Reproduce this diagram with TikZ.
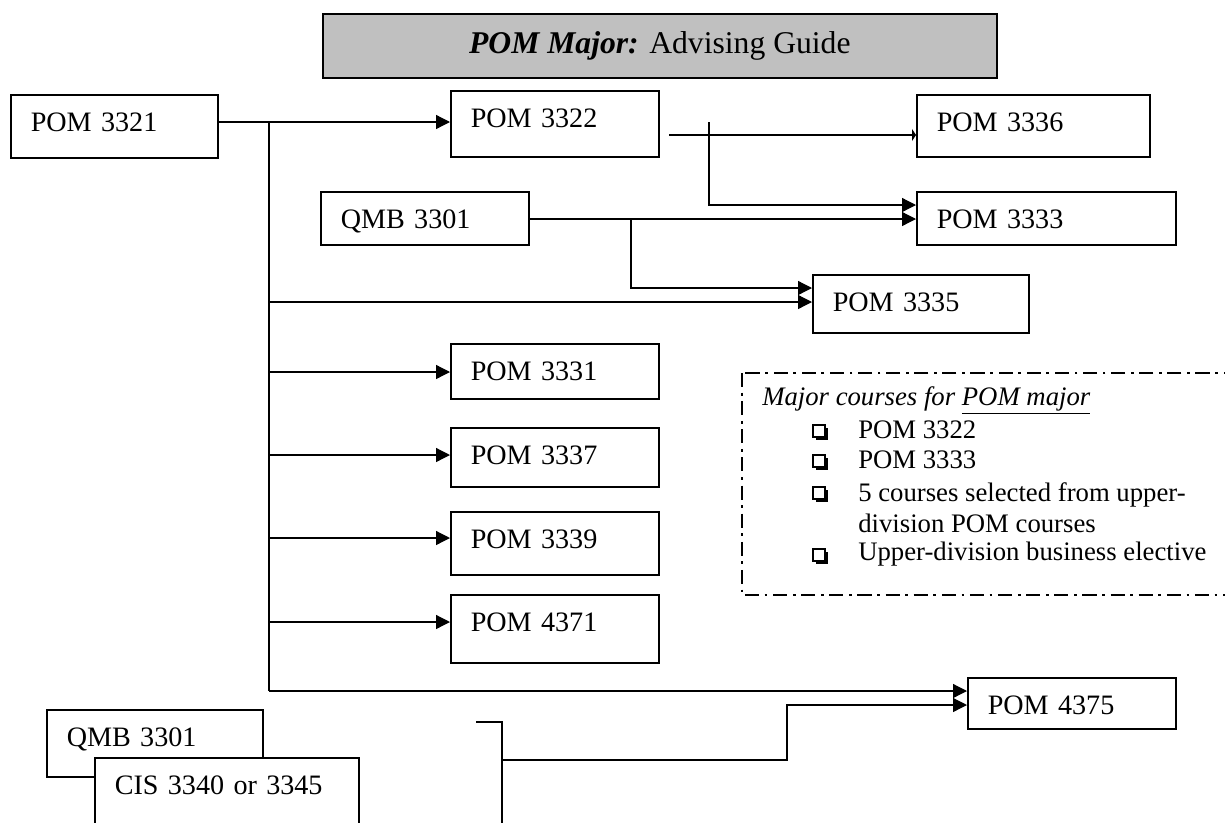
\documentclass[tikz,border=0pt]{standalone}
\usepackage{fontspec}
\setmainfont{Liberation Serif}
\usetikzlibrary{arrows.meta}
\definecolor{titlegray}{HTML}{C0C0C0}
\newcommand{\coursefont}{\fontsize{20}{24}\selectfont}
\newcommand{\notefont}{\fontsize{19}{22}\selectfont}

\begin{document}
\begin{tikzpicture}[x=0.025cm, y=-0.025cm,
    course/.style={draw, line width=1.1pt, fill=white, anchor=north west, inner xsep=0.5cm, inner ysep=0pt, align=left, text height=0.93cm, font=\coursefont},
    conn/.style={line width=0.9pt},
    arr/.style={conn, -{Triangle[length=3.5mm, width=3.5mm]}},
    tinyarr/.style={conn, -{Triangle[length=1mm, width=3mm]}},
    note/.style={anchor=west, inner sep=0pt, align=left, font=\notefont}]
			%%%%% START %%%%%
			
			\clip (0,0) rectangle (1225,823);
			
			\node[course, fill=titlegray, align=center, text height=, minimum width=16.85cm, minimum height=1.6cm, font=\fontsize{22.5}{27}\selectfont] (title) at (322,13) {\textbf{\textit{POM Major:}} Advising Guide};
			
			\node[course, text width=4.175cm, text depth=0.645cm] (p3321) at (10,94) {POM 3321};
			\node[course, text width=4.2cm, text depth=0.72cm] (p3322) at (450,90) {POM 3322};
			\node[course, text width=4.825cm, text depth=0.62cm] (p3336) at (916,94) {POM 3336};
			\node[course, text width=5.475cm, text depth=0.395cm] (p3333) at (916,191) {POM 3333};
			\node[course, text width=4.2cm, text depth=0.395cm] (qmbA) at (320,191) {QMB 3301};
			\node[course, text width=4.4cm, text depth=0.52cm] (p3335) at (812,274) {POM 3335};
			
			\node[course, text width=4.2cm, text depth=0.445cm] (p3331) at (450,343) {POM 3331};
			\node[course, text width=4.2cm, text depth=0.545cm] (p3337) at (450,427) {POM 3337};
			\node[course, text width=4.2cm, text depth=0.645cm] (p3339) at (450,511) {POM 3339};
			\node[course, text width=4.2cm, text depth=0.77cm] (p4371) at (450,594) {POM 4371};
			\node[course, text width=4.2cm, text depth=0.345cm] (p4375) at (967,677) {POM 4375};
			
			\node[course, text width=4.4cm, text depth=0.745cm] (qmbB) at (46,709) {QMB 3301};
			\node[course, text width=5.6cm, text depth=0.82cm] (cis) at (94,757) {CIS 3340 or 3345};
			
			% trunk from POM 3321
			\coordinate (top) at (269,122);
			\coordinate (bottom) at (269,691);
			\draw[arr] (p3321.east |- top) -- (p3322.west |- top);
			\draw[conn] (top) -- (bottom);
			\draw[arr] (bottom) -- (p4375.west |- bottom);
			\foreach \n/\y in {p3335/302, p3331/372, p3337/455, p3339/538, p4371/622}
				\draw[arr] (top |- 0,\y) -- (\n.west |- 0,\y);
			
			% from POM 3322
			\coordinate (s3322) at (669,135);
			\coordinate (k1) at (709,122);
			\coordinate (k2) at (709,205);
			\draw[tinyarr] (s3322) -- (p3336.west |- s3322);
			\draw[arr] (k1) -- (k2) -- (k2 -| p3333.west);
			
			% from QMB 3301
			\coordinate (q1) at (631,219);
			\coordinate (q2) at (631,288);
			\draw[arr] (qmbA.east |- q1) -- (q1 -| p3333.west);
			\draw[arr] (q1) -- (q2) -- (q2 -| p3335.west);
			
			% QMB 3301 + CIS
			\coordinate (b1) at (476,722);
			\coordinate (b2) at (502,722);
			\coordinate (b3) at (502,830);
			\coordinate (b4) at (787,760);
			\coordinate (b5) at (787,705);
			\draw[conn] (b1) -- (b2) -- (b3);
			\draw[arr] (b2 |- b4) -- (b4) -- (b5) -- (b5 -| p4375.west);
			
			% major courses
			\draw[conn, dash pattern=on 10pt off 4pt on 2pt off 4pt] (742,373) rectangle (1260,595);
			\node[note] (ltitle) at (762,400) {\textit{Major courses for \underline{POM major}}};
			\node[note] (l1) at (858,430) {POM 3322};
			\node[note] (l2) at (858,460) {POM 3333};
			\node[note] (l3) at (858,507.5) {5 courses selected from upper-\\division POM courses};
			\node[note] (l4) at (858,554) {Upper-division business elective};
			\foreach \y in {431,461,493,555} {
				\fill (816,\y-3) rectangle (828,\y+9);
				\draw[line width=0.8pt, fill=white] (813,\y-6) rectangle (825,\y+6);
			}
			
			%%%%% END %%%%%
\end{tikzpicture}
\end{document}
